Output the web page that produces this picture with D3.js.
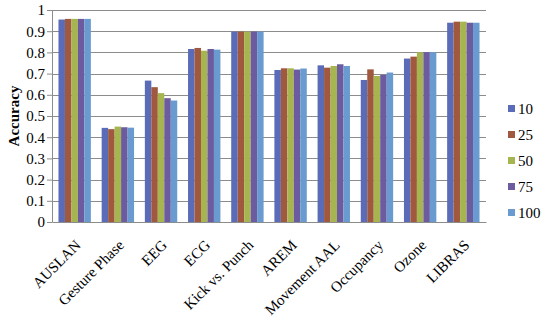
<html><head><meta charset="utf-8"><script src="https://cdn.jsdelivr.net/npm/d3@7"></script></head>
<body style="margin:0">
<script>
// datasets on the x axis
var categories = ["AUSLAN", "Gesture Phase", "EEG", "ECG", "Kick vs. Punch", "AREM",
                  "Movement AAL", "Occupancy", "Ozone", "LIBRAS"];
// series = legend entries
var seriesNames = ["10", "25", "50", "75", "100"];
var s10  = [0.955, 0.444, 0.667, 0.816, 0.898, 0.717, 0.739, 0.670, 0.771, 0.940];
var s25  = [0.958, 0.438, 0.636, 0.821, 0.898, 0.725, 0.728, 0.720, 0.780, 0.945];
var s50  = [0.958, 0.450, 0.608, 0.808, 0.898, 0.725, 0.736, 0.689, 0.801, 0.945];
var s75  = [0.958, 0.447, 0.584, 0.816, 0.898, 0.719, 0.744, 0.694, 0.801, 0.940];
var s100 = [0.958, 0.445, 0.573, 0.813, 0.898, 0.724, 0.736, 0.705, 0.801, 0.940];
var yTicks = [0, 0.1, 0.2, 0.3, 0.4, 0.5, 0.6, 0.7, 0.8, 0.9, 1];

var seriesVals = [s10, s25, s50, s75, s100];
var colors = ["#5a6cb8", "#a0583f", "#a6b550", "#6c5b9e", "#6a9bd0"];
var serif = "'Liberation Serif'";

var W = 550, H = 321;
var margin = {top: 10, right: 64, bottom: 99, left: 52};
var width = W - margin.left - margin.right,
    height = H - margin.top - margin.bottom;

var svg = d3.select("body").append("svg")
    .attr("width", W).attr("height", H)
    .attr("font-family", serif);
var g = svg.append("g")
    .attr("transform", "translate(" + margin.left + "," + margin.top + ")");

var x = d3.scaleBand().domain(categories).range([0, width])
    .paddingInner(0.25).paddingOuter(0.15);
var xs = d3.scaleBand().domain(seriesNames).range([0, x.bandwidth()]);
var y = d3.scaleLinear().domain([0, 1]).range([height, 0]);

// gridlines
g.append("g").selectAll("line").data(yTicks.slice(1)).enter().append("line")
    .attr("x1", 0).attr("x2", width)
    .attr("y1", function(d) { return Math.round(y(d)) + 0.5; })
    .attr("y2", function(d) { return Math.round(y(d)) + 0.5; })
    .attr("stroke", "#8c8c8c").attr("stroke-width", 1);

// bars
var rows = categories.map(function(c, i) {
    return seriesNames.map(function(s, j) { return {cat: c, key: s, value: seriesVals[j][i], j: j}; });
});
g.append("g").selectAll("g").data(rows).enter().append("g")
    .attr("transform", function(d) { return "translate(" + x(d[0].cat) + ",0)"; })
  .selectAll("rect").data(function(d) { return d; }).enter().append("rect")
    .attr("x", function(d) { return xs(d.key); })
    .attr("width", xs.bandwidth())
    .attr("y", function(d) { return y(d.value); })
    .attr("height", function(d) { return height - y(d.value); })
    .attr("fill", function(d) { return colors[d.j]; });

// y axis
var yAxis = g.append("g")
    .call(d3.axisLeft(y).tickValues(yTicks).tickSize(5).tickSizeOuter(0)
        .tickFormat(function(d) { return d3.format("")(+d.toFixed(1)); }));
yAxis.attr("font-family", serif).attr("font-size", 15);
yAxis.select(".domain").attr("stroke", "#8c8c8c");
yAxis.selectAll(".tick line").attr("stroke", "#8c8c8c");
yAxis.selectAll(".tick text").attr("x", -7)
    .attr("font-family", serif).attr("font-size", 15);

// x axis
var xAxis = g.append("g").attr("transform", "translate(0," + height + ")")
    .call(d3.axisBottom(x).tickSize(0).tickSizeOuter(0));
xAxis.attr("font-family", serif).attr("font-size", 15);
xAxis.select(".domain").attr("stroke", "#8c8c8c");
xAxis.selectAll(".tick text")
    .attr("font-family", serif).attr("font-size", 15)
    .attr("text-anchor", "end")
    .attr("dy", 0).attr("y", 0)
    .attr("transform", "translate(7,24) rotate(-45)");

// y title
svg.append("text")
    .attr("transform", "translate(19," + (margin.top + height / 2) + ") rotate(-90)")
    .attr("text-anchor", "middle")
    .attr("font-family", serif).attr("font-size", 15).attr("font-weight", "bold")
    .text("Accuracy");

// legend
var leg = svg.append("g").selectAll("g").data(seriesNames).enter().append("g")
    .attr("transform", function(d, i) { return "translate(508," + (109 + i * 26) + ")"; });
leg.append("rect").attr("x", 0).attr("y", -4).attr("width", 7).attr("height", 7)
    .attr("fill", function(d, i) { return colors[i]; });
leg.append("text").attr("x", 10).attr("y", 5)
    .attr("font-family", serif).attr("font-size", 15)
    .text(function(d) { return d; });
</script></body></html>
